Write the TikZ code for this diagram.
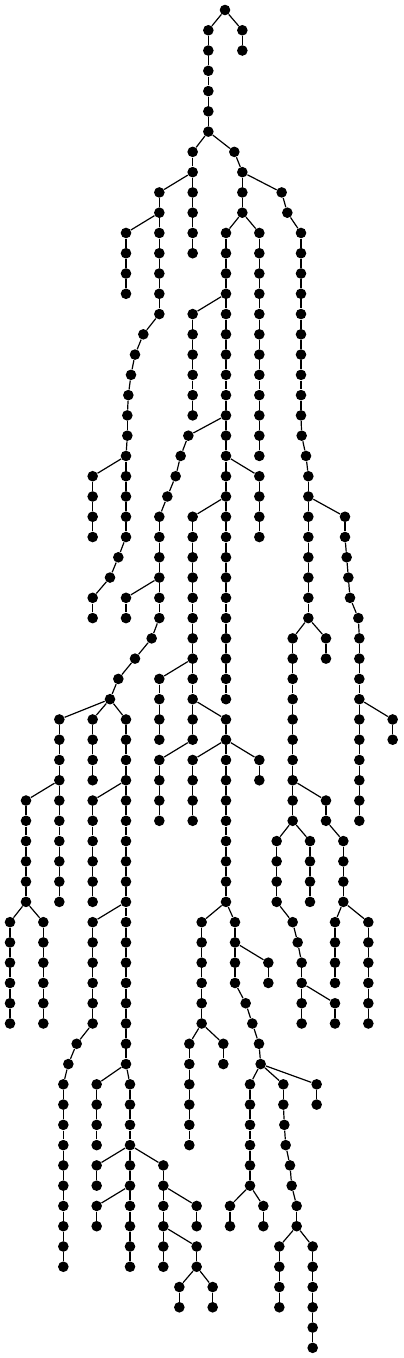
\documentclass[tikz,border=0pt]{standalone}
\begin{document}
\begin{tikzpicture}[x=0.5pt,y=-0.5pt,
  dot/.style={circle,fill=black,draw=none,inner sep=0pt,minimum size=5.3pt},
  edge/.style={draw=black,line width=0.6pt}]
\path[use as bounding box] (0,0) rectangle (403,1358);
\node[dot] (L0x675) at ({675/3},10) {};
\foreach \x/\l/\p in {
625/1/675, 727/1/675,
625/2/625, 727/2/727,
625/3/625, 625/4/625, 625/5/625, 625/6/625,
578/7/625, 703/7/625,
578/8/578, 727/8/703,
478/9/578, 578/9/578, 727/9/727, 845/9/727,
478/10/478, 578/10/578, 727/10/727, 862/10/845,
378/11/478, 478/11/478, 578/11/578, 678/11/727, 778/11/727, 903/11/862,
378/12/378, 478/12/478, 578/12/578, 678/12/678, 778/12/778, 903/12/903,
378/13/378, 478/13/478, 678/13/678, 778/13/778, 903/13/903,
378/14/378, 478/14/478, 678/14/678, 778/14/778, 903/14/903,
478/15/478, 578/15/678, 678/15/678, 778/15/778, 903/15/903,
430/16/478, 578/16/578, 678/16/678, 778/16/778, 903/16/903,
405/17/430, 578/17/578, 678/17/678, 778/17/778, 903/17/903,
393/18/405, 578/18/578, 678/18/678, 778/18/778, 903/18/903,
385/19/393, 578/19/578, 678/19/678, 778/19/778, 903/19/903,
382/20/385, 578/20/578, 678/20/678, 778/20/778, 903/20/903,
382/21/382, 565/21/678, 678/21/678, 778/21/778, 905/21/903,
378/22/382, 542/22/565, 678/22/678, 778/22/778, 918/22/905,
278/23/378, 378/23/378, 527/23/542, 678/23/678, 778/23/678, 925/23/918,
278/24/278, 378/24/378, 502/24/527, 678/24/678, 778/24/778, 925/24/925,
278/25/278, 378/25/378, 478/25/502, 578/25/678, 678/25/678, 778/25/778, 925/25/925, 1035/25/925,
278/26/278, 378/26/378, 478/26/478, 578/26/578, 678/26/678, 778/26/778, 925/26/925, 1035/26/1035,
355/27/378, 478/27/478, 578/27/578, 678/27/678, 925/27/925, 1040/27/1035,
330/28/355, 478/28/478, 578/28/578, 678/28/678, 925/28/925, 1045/28/1040,
278/29/330, 378/29/478, 478/29/478, 578/29/578, 678/29/678, 925/29/925, 1050/29/1045,
278/30/278, 378/30/378, 478/30/478, 578/30/578, 678/30/678, 925/30/925, 1075/30/1050,
455/31/478, 578/31/578, 678/31/678, 878/31/925, 978/31/925, 1078/31/1075,
405/32/455, 578/32/578, 678/32/678, 878/32/878, 978/32/978, 1078/32/1078,
355/33/405, 478/33/578, 578/33/578, 678/33/678, 878/33/878, 1078/33/1078,
330/34/355, 478/34/478, 578/34/578, 678/34/678, 878/34/878, 1078/34/1078,
178/35/330, 278/35/330, 378/35/330, 478/35/478, 578/35/578, 678/35/578, 878/35/878, 1078/35/1078, 1178/35/1078,
178/36/178, 278/36/278, 378/36/378, 478/36/478, 578/36/578, 678/36/678, 878/36/878, 1078/36/1078, 1178/36/1178,
178/37/178, 278/37/278, 378/37/378, 478/37/578, 578/37/678, 678/37/678, 778/37/678, 878/37/878, 1078/37/1078,
178/38/178, 278/38/278, 378/38/378, 478/38/478, 578/38/578, 678/38/678, 778/38/778, 878/38/878, 1078/38/1078,
78/39/178, 178/39/178, 278/39/378, 378/39/378, 478/39/478, 578/39/578, 678/39/678, 878/39/878, 978/39/878, 1078/39/1078,
78/40/78, 178/40/178, 278/40/278, 378/40/378, 478/40/478, 578/40/578, 678/40/678, 878/40/878, 978/40/978, 1078/40/1078,
78/41/78, 178/41/178, 278/41/278, 378/41/378, 678/41/678, 830/41/878, 930/41/878, 1030/41/978,
78/42/78, 178/42/178, 278/42/278, 378/42/378, 678/42/678, 830/42/830, 930/42/930, 1030/42/1030,
78/43/78, 178/43/178, 278/43/278, 378/43/378, 678/43/678, 830/43/830, 930/43/930, 1030/43/1030,
78/44/78, 178/44/178, 278/44/278, 378/44/378, 678/44/678, 830/44/830, 930/44/930, 1030/44/1030,
30/45/78, 130/45/78, 278/45/378, 378/45/378, 605/45/678, 705/45/678, 878/45/830, 1005/45/1030, 1105/45/1030,
30/46/30, 130/46/130, 278/46/278, 378/46/378, 605/46/605, 705/46/705, 893/46/878, 1005/46/1005, 1105/46/1105,
30/47/30, 130/47/130, 278/47/278, 378/47/378, 605/47/605, 705/47/705, 805/47/705, 905/47/893, 1005/47/1005, 1105/47/1105,
30/48/30, 130/48/130, 278/48/278, 378/48/378, 605/48/605, 705/48/705, 805/48/805, 905/48/905, 1005/48/1005, 1105/48/1105,
30/49/30, 130/49/130, 278/49/278, 378/49/378, 605/49/605, 737/49/705, 905/49/905, 1005/49/905, 1105/49/1105,
30/50/30, 130/50/130, 278/50/278, 378/50/378, 605/50/605, 757/50/737, 905/50/905, 1005/50/1005, 1105/50/1105,
230/51/278, 378/51/378, 568/51/605, 670/51/605, 777/51/757,
205/52/230, 378/52/378, 568/52/568, 670/52/670, 782/52/777,
190/53/205, 290/53/378, 390/53/378, 568/53/568, 750/53/782, 850/53/782, 950/53/782,
190/54/190, 290/54/290, 390/54/390, 568/54/568, 750/54/750, 850/54/850, 950/54/950,
190/55/190, 290/55/290, 390/55/390, 568/55/568, 750/55/750, 853/55/850,
190/56/190, 290/56/290, 390/56/390, 568/56/568, 750/56/750, 857/56/853,
190/57/190, 290/57/390, 390/57/390, 490/57/390, 750/57/750, 870/57/857,
190/58/190, 290/58/290, 390/58/390, 490/58/490, 750/58/750, 875/58/870,
190/59/190, 290/59/390, 390/59/390, 490/59/490, 590/59/490, 690/59/750, 790/59/750, 890/59/875,
190/60/190, 290/60/290, 390/60/390, 490/60/490, 590/60/590, 690/60/690, 790/60/790, 890/60/890,
190/61/190, 390/61/390, 490/61/490, 590/61/490, 838/61/890, 938/61/890,
190/62/190, 390/62/390, 490/62/490, 590/62/590, 838/62/838, 938/62/938,
538/63/590, 638/63/590, 838/63/838, 938/63/938,
538/64/538, 638/64/638, 838/64/838, 938/64/938,
938/65/938, 938/66/938}
{
  \pgfmathtruncatemacro{\pl}{\l-1}
  \node[dot] (L\l x\x) at ({\x/3},{10+20.27*\l}) {};
  \draw[edge] (L\pl x\p) -- (L\l x\x);
}
\end{tikzpicture}
\end{document}
